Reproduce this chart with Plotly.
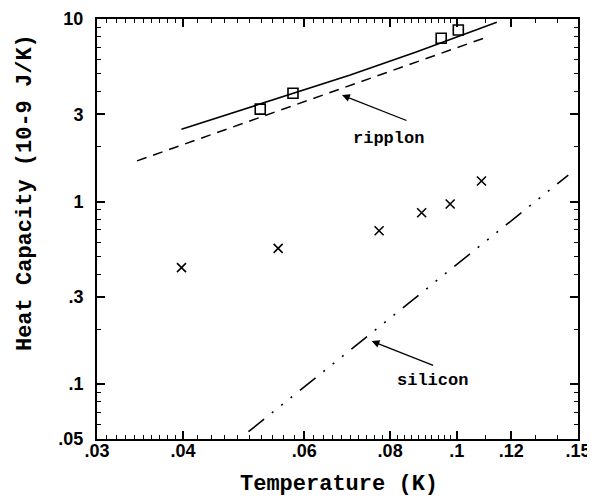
import numpy as np
import plotly.graph_objects as go

# ---- data ----
fit_T = [0.0398, 0.0577, 0.0700, 0.0875, 0.1143]
fit_C = [2.49, 3.92, 4.93, 6.62, 9.59]

ripplon_theory_T = [0.0343, 0.070, 0.1093]
ripplon_theory_C = [1.67, 4.30, 7.84]

silicon_T = [0.0498, 0.1452]
silicon_C = [0.0548, 1.397]

square_T = [0.0518, 0.0578, 0.0949, 0.1005]
square_C = [3.21, 3.92, 7.84, 8.70]

cross_T = [0.0398, 0.0550, 0.0771, 0.0889, 0.0978, 0.1086]
cross_C = [0.434, 0.554, 0.692, 0.868, 0.969, 1.295]

x_tickvals = [0.03, 0.04, 0.06, 0.08, 0.1, 0.12, 0.15]
x_ticktext = [".03", ".04", ".06", ".08", ".1", ".12", ".15"]
x_minor = ([0.031, 0.032, 0.033, 0.034, 0.035, 0.036, 0.037, 0.038, 0.039,
            0.042, 0.044, 0.046, 0.048, 0.05, 0.052, 0.054, 0.056, 0.058,
            0.062, 0.064, 0.066, 0.068, 0.07, 0.072, 0.074, 0.076, 0.078,
            0.082, 0.084, 0.086, 0.088, 0.09, 0.092, 0.094, 0.096, 0.098,
            0.11, 0.13, 0.14])

y_tickvals = [0.05, 0.1, 0.3, 1, 3, 10]
y_ticktext = [".05", ".1", ".3", "1", "3", "10"]
y_minor = [0.06, 0.07, 0.08, 0.09, 0.2, 0.4, 0.5, 0.6, 0.7, 0.8, 0.9,
           2, 4, 5, 6, 7, 8, 9]

x_title = "Temperature (K)"
y_title = "Heat Capacity (10-9 J/K)"

x_range = [np.log10(0.03), np.log10(0.15)]
y_range = [np.log10(0.05), 1]

fig = go.Figure()

fig.add_trace(go.Scatter(x=fit_T, y=fit_C, mode="lines",
                         line=dict(color="black", width=1.6),
                         showlegend=False, hoverinfo="skip"))
fig.add_trace(go.Scatter(x=ripplon_theory_T, y=ripplon_theory_C, mode="lines",
                         line=dict(color="black", width=1.5, dash="10px,7px"),
                         showlegend=False, hoverinfo="skip"))
fig.add_trace(go.Scatter(x=silicon_T, y=silicon_C, mode="lines",
                         line=dict(color="black", width=1.6,
                                   dash="20px,10px,2px,10px,2px,10px,2px,10px"),
                         showlegend=False, hoverinfo="skip"))
fig.add_trace(go.Scatter(x=square_T, y=square_C, mode="markers",
                         marker=dict(symbol="square-open", size=10, color="black",
                                     line=dict(width=1.6, color="black")),
                         showlegend=False))
fig.add_trace(go.Scatter(x=cross_T, y=cross_C, mode="markers",
                         marker=dict(symbol="x-thin", size=9, color="black",
                                     line=dict(width=1.6, color="black")),
                         showlegend=False))
# invisible trace that anchors the top/right tick axes
fig.add_trace(go.Scatter(x=cross_T, y=cross_C, mode="markers", xaxis="x2", yaxis="y2",
                         marker=dict(opacity=0), showlegend=False, hoverinfo="skip"))

label_font = dict(family="Liberation Mono", size=17, color="black", weight="bold")
title_font = dict(family="Liberation Mono", size=22, color="black", weight="bold")
tick_font = dict(family="Liberation Sans", size=18, color="black", weight="bold")

fig.add_annotation(x=np.log10(0.0681), y=np.log10(3.83), ax=66, ay=26,
                   xref="x", yref="y", showarrow=True, arrowhead=2,
                   arrowsize=1.2, arrowwidth=1.3, arrowcolor="black", text="")
fig.add_annotation(x=np.log10(0.0795), y=np.log10(2.21), text="ripplon",
                   showarrow=False, font=label_font)
fig.add_annotation(x=np.log10(0.0752), y=np.log10(0.172), ax=63, ay=25,
                   xref="x", yref="y", showarrow=True, arrowhead=2,
                   arrowsize=1.2, arrowwidth=1.3, arrowcolor="black", text="")
fig.add_annotation(x=np.log10(0.0923), y=np.log10(0.105), text="silicon",
                   showarrow=False, font=label_font)

# axis titles
fig.add_annotation(x=0.503, y=-0.1095, xref="paper", yref="paper", text=x_title,
                   showarrow=False, font=title_font, xanchor="center", yanchor="middle")
fig.add_annotation(x=-0.1497, y=0.588, xref="paper", yref="paper", text=y_title,
                   showarrow=False, font=title_font, textangle=-90,
                   xanchor="center", yanchor="middle")

minor_x = dict(tickmode="array", tickvals=x_minor, ticks="inside", ticklen=4,
               tickwidth=1, tickcolor="black", showgrid=False)
minor_y = dict(tickmode="array", tickvals=y_minor, ticks="inside", ticklen=4,
               tickwidth=1, tickcolor="black", showgrid=False)

# the page body has an 8px margin: shrink the figure so it fits the 595x500 window
fig.update_layout(
    template="none",
    width=587, height=492,
    margin=dict(l=89, r=17, t=11, b=61),
    paper_bgcolor="white", plot_bgcolor="white",
    xaxis=dict(type="log", range=x_range, automargin=False,
               tickmode="array", tickvals=x_tickvals, ticktext=x_ticktext,
               ticks="inside", ticklen=8, tickwidth=1.5, tickcolor="black",
               minor=minor_x, ticklabelstandoff=-6,
               showline=True, linewidth=2, linecolor="black", mirror=False,
               showgrid=False, zeroline=False, tickfont=tick_font),
    yaxis=dict(type="log", range=y_range, automargin=False,
               tickmode="array", tickvals=y_tickvals, ticktext=y_ticktext,
               ticks="inside", ticklen=8, tickwidth=1.5, tickcolor="black",
               minor=minor_y, ticklabelstandoff=8,
               showline=True, linewidth=2, linecolor="black", mirror=False,
               showgrid=False, zeroline=False, tickfont=tick_font),
    xaxis2=dict(type="log", range=x_range, overlaying="x", anchor="y2", side="top",
                automargin=False, tickmode="array", tickvals=x_tickvals,
                ticks="inside", ticklen=8, tickwidth=1.5, tickcolor="black",
                minor=minor_x,
                showticklabels=False, showline=True, linewidth=2, linecolor="black",
                showgrid=False, zeroline=False),
    yaxis2=dict(type="log", range=y_range, overlaying="y", anchor="x2", side="right",
                automargin=False, tickmode="array", tickvals=y_tickvals,
                ticks="inside", ticklen=8, tickwidth=1.5, tickcolor="black",
                minor=minor_y,
                showticklabels=False, showline=True, linewidth=2, linecolor="black",
                showgrid=False, zeroline=False),
)

fig.write_html("out.html")
